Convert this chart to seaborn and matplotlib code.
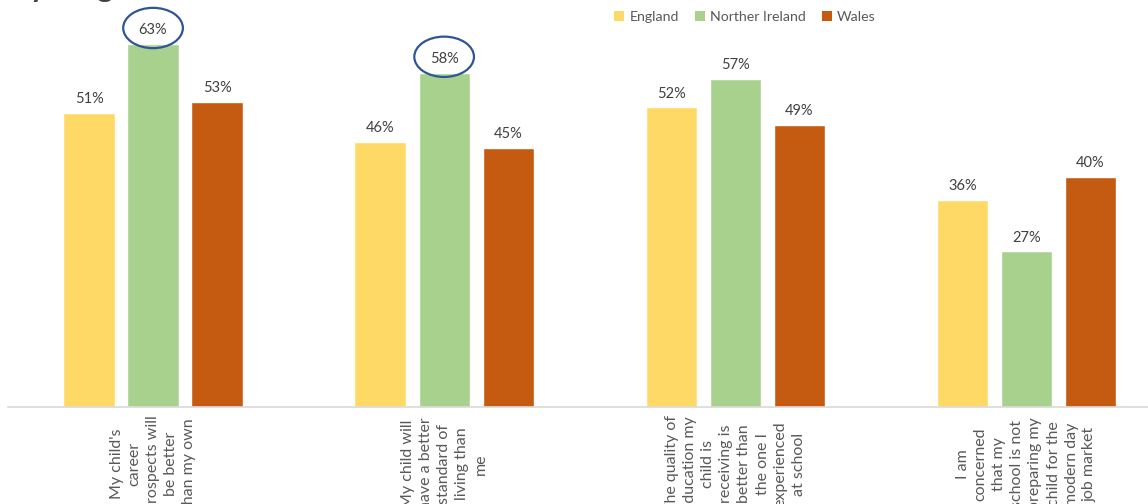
import matplotlib
matplotlib.use("Agg")
import matplotlib.pyplot as plt
import matplotlib.transforms as mtransforms
from matplotlib.patches import Ellipse, Patch
import seaborn as sns
import pandas as pd

statements = [
    "My child's\ncareer\nprospects will\nbe better\nthan my own",
    "My child will\nhave a better\nstandard of\nliving than\nme",
    "The quality of\neducation my\nchild is\nreceiving is\nbetter than\nthe one I\nexperienced\nat school",
    "I am\nconcerned\nthat my\nschool is not\npreparing my\nchild for the\nmodern day\njob market",
]
regions = ["England", "Norther Ireland", "Wales"]
england = [51, 46, 52, 36]
northern_ireland = [63, 58, 57, 27]
wales = [53, 45, 49, 40]
highlighted = [0, 1]  # statements whose Northern Ireland value is circled

colors = ["#FFD966", "#A9D18E", "#C55A11"]

sns.set_theme(style="white")
plt.rcParams["font.family"] = ["Lato", "DejaVu Sans"]

rows = []
for i, s in enumerate(statements):
    for r, vals in zip(regions, [england, northern_ireland, wales]):
        rows.append({"statement": s, "region": r, "value": vals[i]})
df = pd.DataFrame(rows)

W, H = 1148, 504
fig = plt.figure(figsize=(W / 100, H / 100), dpi=100)
ax = fig.add_axes([7.5 / W, 97 / H, (W - 7.5) / W, 407 / H])

sns.barplot(data=df, x="statement", y="value", hue="region", hue_order=regions,
            order=statements, palette=colors, saturation=1, width=0.66, gap=0.2,
            ax=ax, legend=False, errorbar=None)

ax.set_xlim(-0.5, 3.418)
ax.set_ylim(0, 407 / 5.76)

for cont in ax.containers:
    ax.bar_label(cont, labels=[f"{v:.0f}%" for v in cont.datavalues], padding=5,
                 fontsize=10.5, color="#404040")

for i in highlighted:
    y = northern_ireland[i]
    ax.add_patch(Ellipse((i, y + 2.8), width=0.205, height=7.0, fill=False,
                         edgecolor="#2F5597", linewidth=1.6, clip_on=False))

for s in ["top", "right", "left"]:
    ax.spines[s].set_visible(False)
ax.spines["bottom"].set_color("#D9D9D9")
ax.spines["bottom"].set_linewidth(1.2)
ax.set_xlabel("")
ax.set_ylabel("")
ax.set_yticks([])
ax.set_xticks(range(len(statements)))
ax.set_xticklabels([])
ax.tick_params(length=0)

trans = mtransforms.blended_transform_factory(ax.transData, fig.transFigure)
for i, s in enumerate(statements):
    ax.text(i, (H - 464) / H, s, transform=trans, rotation=90, ha="center",
            va="center", multialignment="center", fontsize=11.5, color="#595959",
            linespacing=1.38, clip_on=False)

handles = [Patch(facecolor=c, edgecolor="none") for c in colors]
fig.legend(handles, regions, loc="center", bbox_to_anchor=(745 / W, 1 - 17 / H),
           ncol=3, frameon=False, handlelength=0.7, handleheight=0.7,
           columnspacing=1.1, handletextpad=0.4, fontsize=10.2, labelcolor="#595959")

fig.text(30 / W, 1 + 3 / H, "young", fontsize=22, fontweight="bold",
         color="#404040", va="baseline", ha="left")

fig.savefig("out.png", dpi=100)
